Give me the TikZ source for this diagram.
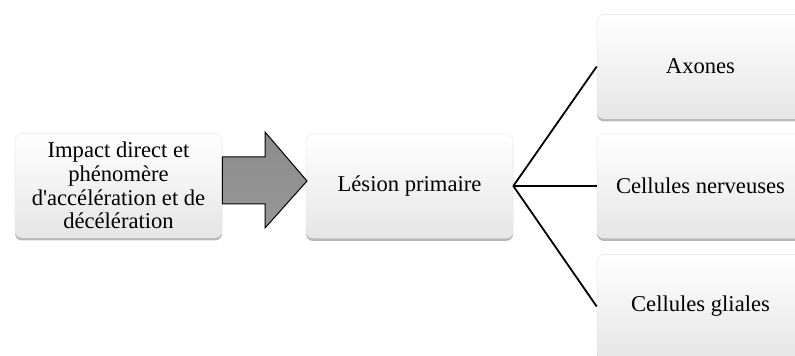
\documentclass[tikz,border=0pt]{standalone}
\usepackage{fontspec}
\setmainfont{Liberation Serif}
\usetikzlibrary{shadows}
\tikzset{
  boite/.style={rectangle, rounded corners=3.5pt, minimum width=103.5pt, minimum height=52pt,
    align=center, top color=white, bottom color=gray!20, draw=gray!15, line width=0.3pt,
    drop shadow={shadow xshift=0pt, shadow yshift=-1.5pt, opacity=0.55},
    font=\fontsize{11.3}{11.8}\selectfont},
  lien/.style={line width=0.9pt}
}
\begin{document}
\begin{tikzpicture}[x=0.5pt,y=-0.5pt]
\useasboundingbox (0,0) rectangle (795,356);
\clip (0,0) rectangle (795,356);
% boites
\node[boite] (cause) at (118.5,185.5) {Impact direct et\\phénomère\\d\textquotesingle accélération et de\\décélération};
\node[boite] (lesion) at (409.5,186) {Lésion primaire};
\node[boite] (axones) at (700.5,66.5) {Axones};
\node[boite] (nerv) at (700.5,186) {Cellules nerveuses};
\node[boite] (glie) at (700.5,306.5) {Cellules gliales};
% fleche
\coordinate (pointe) at (307,181);
\draw[line width=0.5pt, top color=gray!90, bottom color=gray!82]
  (cause.east |- 0,157) -- (265,157) -- (265,132) -- (pointe) -- (265,228) -- (265,204) -- (cause.east |- 0,204) -- cycle;
% liens
\draw[lien] (lesion.east) -- (axones.west);
\draw[lien] (lesion.east) -- (nerv.west);
\draw[lien] (lesion.east) -- (glie.west);
\end{tikzpicture}
\end{document}
